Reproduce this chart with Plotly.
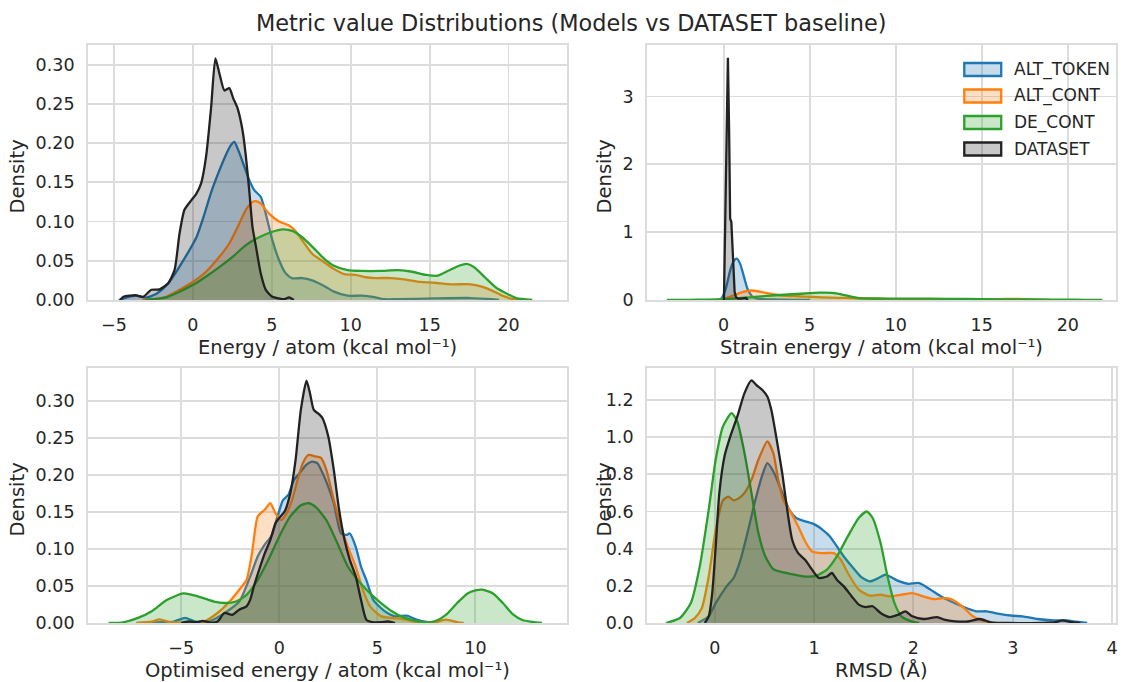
import plotly.graph_objects as go

# ---------------- data ----------------
SERIES = ["ALT_TOKEN", "ALT_CONT", "DE_CONT", "DATASET"]

# Panel 1: Energy / atom
energy_x_alt_token = [-4.7,-3.65,-2.97,-2.3,-1.6,-1.14,-0.68,-0.23,0.23,0.68,1.14,1.6,2.05,2.4,2.63,2.9,3.26,3.57,3.89,4.3,4.62,5.04,5.46,5.88,6.3,6.93,7.56,8.4,8.9,9.8,10.7,11.4,12.1,13.0,15.3,17.6,18.9,19.4]
energy_y_alt_token = [0,0.0055,0.003,0.008,0.02,0.033,0.048,0.063,0.08,0.106,0.136,0.161,0.183,0.197,0.2016,0.19,0.17,0.153,0.14,0.1316,0.11,0.076,0.051,0.034,0.0276,0.028,0.025,0.017,0.011,0.0055,0.0055,0.004,0.001,0.001,0.002,0.0025,0.001,0]
energy_x_alt_cont = [-3.2,-2.5,-1.68,-0.84,0,0.84,1.68,2.31,2.84,3.36,3.78,4.0,4.3,4.83,5.46,6.1,6.5,6.93,7.56,8.4,8.9,9.6,10.3,10.96,11.6,12.56,13.5,14.4,15.3,16.4,17.6,18.3,18.95,19.6,20.3,20.8]
energy_y_alt_cont = [0,0.001,0.004,0.013,0.023,0.036,0.055,0.072,0.093,0.115,0.125,0.126,0.123,0.11,0.1,0.095,0.088,0.076,0.059,0.047,0.04,0.033,0.032,0.029,0.028,0.028,0.026,0.023,0.022,0.02,0.02,0.017,0.012,0.0055,0.001,0]
energy_x_de_cont = [-3.0,-1.68,-0.84,0,0.84,1.68,2.52,3.36,4.2,5.04,5.67,6.3,6.93,7.56,8.4,8.9,9.8,10.7,11.85,13.0,13.9,14.8,15.5,16.2,16.9,17.35,17.8,18.5,19.2,19.9,20.5,21.5]
energy_y_de_cont = [0,0.0034,0.0106,0.019,0.03,0.042,0.055,0.07,0.08,0.087,0.09,0.088,0.08,0.068,0.051,0.044,0.038,0.037,0.037,0.038,0.036,0.032,0.031,0.0376,0.044,0.046,0.042,0.029,0.016,0.008,0.0025,0]
energy_x_dataset = [-4.6,-4.4,-3.57,-3.15,-2.63,-2.1,-1.58,-1.16,-0.84,-0.53,-0.1,0.21,0.53,0.84,1.16,1.43,1.68,2.0,2.31,2.56,2.84,3.15,3.36,3.57,3.78,4.0,4.3,4.62,5.04,5.46,5.8,6.1,6.4]
energy_y_dataset = [0,0.004,0.006,0.004,0.013,0.0136,0.021,0.038,0.085,0.115,0.127,0.135,0.149,0.183,0.246,0.308,0.289,0.267,0.27,0.257,0.244,0.216,0.183,0.14,0.093,0.068,0.034,0.013,0.004,0.002,0.001,0.0034,0]

# Panel 2: Strain energy / atom
strain_x_alt_token = [-0.3,-0.1,0.13,0.3,0.42,0.6,0.77,0.95,1.1,1.25,1.38,1.55,1.67,1.9,2.15,2.6,3.2,4.0,5.0]
strain_y_alt_token = [0,0.03,0.17,0.35,0.47,0.58,0.61,0.54,0.42,0.28,0.17,0.09,0.05,0.025,0.015,0.01,0.006,0.003,0]
strain_x_alt_cont = [-0.4,0,0.42,1.0,1.6,2.35,3.3,4.27,5.2,6.2,7.1,8.1,9.1,10,11,12,13,14,15,16,16.8,17.5,18.2,19]
strain_y_alt_cont = [0,0.02,0.05,0.11,0.14,0.11,0.07,0.055,0.045,0.035,0.03,0.022,0.015,0.012,0.01,0.01,0.01,0.01,0.011,0.014,0.016,0.013,0.005,0]
strain_x_de_cont = [-3.3,-2,-1,0,1,2,3,4,5,5.6,6.3,6.9,7.7,8.1,9,10,12,14,16,18,20,21,22]
strain_y_de_cont = [0,0.003,0.006,0.012,0.03,0.05,0.07,0.085,0.1,0.108,0.105,0.08,0.035,0.025,0.022,0.02,0.02,0.015,0.01,0.008,0.005,0.003,0]
strain_x_dataset = [0.02,0.1,0.2,0.25,0.32,0.38,0.45,0.5,0.57,0.64,0.72,0.85,1.0,1.2,1.3,1.4]
strain_y_dataset = [0,1.5,3.4,3.57,2.5,1.2,1.15,0.8,0.35,0.12,0.04,0.02,0.02,0.03,0.03,0]

# Panel 3: Optimised energy / atom
opt_x_alt_token = [-7.2,-6.0,-5.37,-4.8,-4.26,-3.5,-2.78,-2.04,-1.48,-1.1,-0.74,-0.37,-0.09,0.19,0.46,0.74,1.02,1.39,1.67,1.94,2.22,2.5,2.78,3.15,3.43,3.6,3.9,4.17,4.44,4.8,5.37,5.9,6.5,7.0,7.6,8.0]
opt_y_alt_token = [0,0.001,0.002,0.007,0.002,0.003,0.0135,0.029,0.063,0.09,0.106,0.119,0.144,0.166,0.173,0.193,0.202,0.214,0.218,0.216,0.202,0.184,0.162,0.121,0.119,0.121,0.103,0.076,0.058,0.031,0.016,0.009,0.01,0.0045,0.001,0]
opt_x_alt_cont = [-7.3,-6.5,-6.1,-5.55,-4.5,-3.9,-3.15,-2.6,-2.04,-1.67,-1.39,-1.1,-0.74,-0.46,-0.19,0.09,0.37,0.65,0.93,1.2,1.48,1.85,2.13,2.4,2.78,3.15,3.5,3.9,4.26,4.63,5.19,5.74,6.3,6.85,7.5,7.96,8.5,9.1,9.4]
opt_y_alt_cont = [0,0.002,0.005,0.001,0.0005,0.001,0.0135,0.027,0.045,0.058,0.094,0.144,0.153,0.162,0.148,0.139,0.148,0.166,0.193,0.216,0.227,0.225,0.223,0.207,0.166,0.13,0.103,0.076,0.045,0.0225,0.009,0.007,0.0054,0.002,0.001,0.001,0.0045,0.001,0]
opt_x_de_cont = [-8.7,-7.96,-7.2,-6.5,-5.74,-4.9,-4.44,-3.9,-3.33,-2.78,-2.2,-1.67,-1.1,-0.56,0,0.56,1.1,1.48,1.85,2.4,2.96,3.5,4.07,4.63,5.19,5.74,6.3,6.85,7.4,7.96,8.5,9.07,9.6,10.0,10.35,10.9,11.4,11.9,12.4,13.0,13.4]
opt_y_de_cont = [0,0.001,0.007,0.016,0.031,0.04,0.038,0.034,0.029,0.027,0.029,0.038,0.058,0.085,0.117,0.144,0.159,0.162,0.157,0.139,0.108,0.076,0.056,0.04,0.027,0.016,0.008,0.0036,0.001,0.0027,0.011,0.027,0.04,0.044,0.045,0.04,0.027,0.012,0.004,0.001,0]
opt_x_dataset = [-5.0,-4.6,-4.2,-3.9,-3.5,-3.15,-2.8,-2.4,-2.04,-1.67,-1.48,-1.3,-1.0,-0.74,-0.46,-0.19,0,0.28,0.56,0.83,1.1,1.39,1.57,1.76,2.04,2.2,2.5,2.78,3.05,3.33,3.6,3.9,4.17,4.44,4.8,5.2,5.55,5.9]
opt_y_dataset = [0,0.002,0.001,0.003,0.0005,0.002,0.0135,0.011,0.018,0.0225,0.0315,0.049,0.074,0.094,0.112,0.135,0.142,0.151,0.175,0.22,0.288,0.3275,0.31,0.288,0.282,0.277,0.252,0.207,0.153,0.112,0.085,0.063,0.031,0.0045,0.001,0.001,0.002,0]

# Panel 4: RMSD
rmsd_x_alt_token = [-0.17,-0.06,0.01,0.12,0.19,0.26,0.33,0.41,0.48,0.53,0.6,0.68,0.75,0.82,0.91,1.0,1.09,1.16,1.23,1.3,1.38,1.47,1.56,1.65,1.72,1.79,1.86,1.95,2.06,2.17,2.28,2.38,2.49,2.63,2.74,2.85,3.0,3.1,3.25,3.41,3.54,3.64,3.75]
rmsd_y_alt_token = [0,0.036,0.107,0.197,0.242,0.34,0.484,0.663,0.797,0.86,0.806,0.7,0.61,0.565,0.547,0.532,0.5,0.466,0.412,0.358,0.305,0.25,0.224,0.242,0.26,0.242,0.224,0.211,0.215,0.18,0.143,0.116,0.09,0.063,0.063,0.05,0.039,0.036,0.0215,0.014,0.014,0.007,0]
rmsd_x_alt_cont = [-0.28,-0.2,-0.13,-0.06,0.01,0.083,0.137,0.19,0.245,0.3,0.37,0.44,0.53,0.59,0.64,0.69,0.77,0.84,0.91,0.98,1.09,1.2,1.27,1.34,1.45,1.56,1.67,1.77,1.88,1.99,2.1,2.2,2.31,2.38,2.49,2.6,2.67,2.78,2.85]
rmsd_y_alt_cont = [0,0.027,0.08,0.25,0.5,0.66,0.68,0.66,0.672,0.7,0.77,0.878,0.977,0.914,0.77,0.663,0.591,0.52,0.44,0.385,0.376,0.376,0.34,0.269,0.18,0.147,0.152,0.143,0.152,0.161,0.143,0.129,0.134,0.129,0.09,0.036,0.018,0.004,0]
rmsd_x_de_cont = [-0.49,-0.35,-0.24,-0.15,-0.06,0.01,0.083,0.17,0.227,0.3,0.37,0.44,0.51,0.59,0.69,0.8,0.91,1.02,1.13,1.23,1.34,1.45,1.53,1.59,1.67,1.74,1.81,1.88,1.99,2.06]
rmsd_y_de_cont = [0,0.027,0.107,0.305,0.61,0.878,1.057,1.129,1.084,0.914,0.7,0.484,0.358,0.29,0.272,0.26,0.25,0.254,0.287,0.358,0.466,0.565,0.6,0.565,0.43,0.25,0.107,0.036,0.007,0]
rmsd_x_dataset = [-0.1,-0.06,-0.025,0.01,0.047,0.1,0.155,0.227,0.3,0.37,0.42,0.48,0.53,0.57,0.62,0.68,0.73,0.78,0.84,0.91,0.98,1.05,1.13,1.18,1.23,1.3,1.38,1.45,1.52,1.59,1.67,1.76,1.85,1.92,1.99,2.1,2.24,2.31,2.42,2.55,2.67,2.78,2.96,3.3,3.43,3.5,3.6,3.68]
rmsd_y_dataset = [0,0.036,0.16,0.41,0.7,0.9,1.0,1.11,1.237,1.305,1.28,1.254,1.219,1.147,1.0,0.806,0.61,0.448,0.376,0.34,0.287,0.242,0.25,0.269,0.233,0.197,0.143,0.099,0.086,0.09,0.054,0.032,0.045,0.063,0.036,0.0215,0.032,0.018,0.009,0.008,0.0215,0.004,0,0.001,0.004,0.014,0.004,0]

# axis titles and texts
x_titles = ["Energy / atom (kcal mol⁻¹)", "Strain energy / atom (kcal mol⁻¹)",
            "Optimised energy / atom (kcal mol⁻¹)", "RMSD (Å)"]
y_title = "Density"
title_text = "Metric value Distributions (Models vs DATASET baseline)"

# ---------------- style ----------------
COLORS = {"ALT_TOKEN": "#1f77b4", "ALT_CONT": "#ff7f0e", "DE_CONT": "#2ca02c", "DATASET": "#222222"}
FILLS = {"ALT_TOKEN": "rgba(31,119,180,0.25)", "ALT_CONT": "rgba(255,127,14,0.25)",
         "DE_CONT": "rgba(44,160,44,0.25)", "DATASET": "rgba(34,34,34,0.25)"}
FONT = "DejaVu Sans"
TXT = "#262626"
GRID = "#dcdcdc"

W, H = 1121, 682          # target picture size (positions below are given in these pixels)
FIG_H = 692               # page height used for the figure (the capture is squeezed to 682)
# panel pixel boxes: (left, right, top, bottom)
boxes = [(88, 568, 45, 300), (648, 1118, 45, 300), (88, 568, 368, 623), (648, 1118, 368, 623)]

panels = [
    dict(data={"ALT_TOKEN": (energy_x_alt_token, energy_y_alt_token),
               "ALT_CONT": (energy_x_alt_cont, energy_y_alt_cont),
               "DE_CONT": (energy_x_de_cont, energy_y_de_cont),
               "DATASET": (energy_x_dataset, energy_y_dataset)},
         xrange=[-6.65, 23.7], yrange=[0, 0.325], xdtick=5, ydtick=0.05, yfmt=".2f"),
    dict(data={"ALT_TOKEN": (strain_x_alt_token, strain_y_alt_token),
               "ALT_CONT": (strain_x_alt_cont, strain_y_alt_cont),
               "DE_CONT": (strain_x_de_cont, strain_y_de_cont),
               "DATASET": (strain_x_dataset, strain_y_dataset)},
         xrange=[-4.46, 22.8], yrange=[0, 3.76], xdtick=5, ydtick=1, yfmt="d"),
    dict(data={"ALT_TOKEN": (opt_x_alt_token, opt_y_alt_token),
               "ALT_CONT": (opt_x_alt_cont, opt_y_alt_cont),
               "DE_CONT": (opt_x_de_cont, opt_y_de_cont),
               "DATASET": (opt_x_dataset, opt_y_dataset)},
         xrange=[-9.76, 14.67], yrange=[0, 0.3446], xdtick=5, ydtick=0.05, yfmt=".2f"),
    dict(data={"ALT_TOKEN": (rmsd_x_alt_token, rmsd_y_alt_token),
               "ALT_CONT": (rmsd_x_alt_cont, rmsd_y_alt_cont),
               "DE_CONT": (rmsd_x_de_cont, rmsd_y_de_cont),
               "DATASET": (rmsd_x_dataset, rmsd_y_dataset)},
         xrange=[-0.683, 4.04], yrange=[0, 1.372], xdtick=1, ydtick=0.2, yfmt=".1f"),
]


def xp(px):
    return px / W


def yp(py):
    return 1 - py / H


fig = go.Figure()
layout = dict(
    width=W, height=FIG_H, margin=dict(l=0, r=0, t=0, b=0),
    paper_bgcolor="white", plot_bgcolor="white",
    font=dict(family=FONT, color=TXT, size=17),
    showlegend=False,
)
annotations = []
shapes = []

for i, p in enumerate(panels):
    n = "" if i == 0 else str(i + 1)
    l, r, t, b = boxes[i]
    for s in SERIES:
        xs, ys = p["data"][s]
        shape = "linear" if (i == 1 and s == "DATASET") else "spline"
        fig.add_trace(go.Scatter(
            x=xs, y=ys, mode="lines", name=s, xaxis="x" + n, yaxis="y" + n,
            line=dict(color=COLORS[s], width=2.3, shape=shape, smoothing=0.6),
            fill="tozeroy", fillcolor=FILLS[s], hoverinfo="skip"))
    common = dict(showgrid=True, gridcolor=GRID, gridwidth=1.8, showline=True, linecolor=GRID,
                  linewidth=1.8, mirror=True, zeroline=False, ticks="",
                  tickfont=dict(family=FONT, size=17.5, color=TXT))
    layout["xaxis" + n] = dict(common, domain=[xp(l), xp(r)], range=p["xrange"], dtick=p["xdtick"],
                               tick0=0, anchor="y" + n, ticklabelstandoff=8)
    layout["yaxis" + n] = dict(common, domain=[yp(b), yp(t)], range=p["yrange"], dtick=p["ydtick"],
                               tick0=0, tickformat=p["yfmt"], anchor="x" + n, ticklabelstandoff=8)
    # axis titles
    annotations.append(dict(text=x_titles[i], x=xp((l + r) / 2), y=yp(b + 47), xref="paper", yref="paper",
                            showarrow=False, xanchor="center", yanchor="middle",
                            font=dict(family=FONT, size=19.5, color=TXT)))
    annotations.append(dict(text=y_title, x=xp(18 if i % 2 == 0 else 606), y=yp((t + b) / 2 + 4),
                            xref="paper", yref="paper", showarrow=False, textangle=-90,
                            xanchor="center", yanchor="middle",
                            font=dict(family=FONT, size=19.5, color=TXT)))

# legend (drawn in the top-right panel, as in the reference)
legend_rows = [69.5, 96, 122.5, 149]
for s, yc in zip(SERIES, legend_rows):
    shapes.append(dict(type="rect", xref="paper", yref="paper",
                       x0=xp(966), x1=xp(1003), y0=yp(yc + 6.5), y1=yp(yc - 6.5),
                       fillcolor=FILLS[s], line=dict(color=COLORS[s], width=2.3), layer="above"))
    annotations.append(dict(text=s, x=xp(1014), y=yp(yc), xref="paper", yref="paper",
                            showarrow=False, xanchor="left", yanchor="middle",
                            font=dict(family=FONT, size=17, color=TXT)))

annotations.append(dict(text=title_text, x=xp(573), y=yp(23), xref="paper", yref="paper",
                        showarrow=False, xanchor="center", yanchor="middle",
                        font=dict(family=FONT, size=22.4, color=TXT)))
layout["annotations"] = annotations
layout["shapes"] = shapes
fig.update_layout(**layout)
fig.write_html("out.html",
               config={"displayModeBar": False, "staticPlot": True},
               post_script="document.body.style.margin='0';"
                           "document.documentElement.style.overflow='hidden';")
